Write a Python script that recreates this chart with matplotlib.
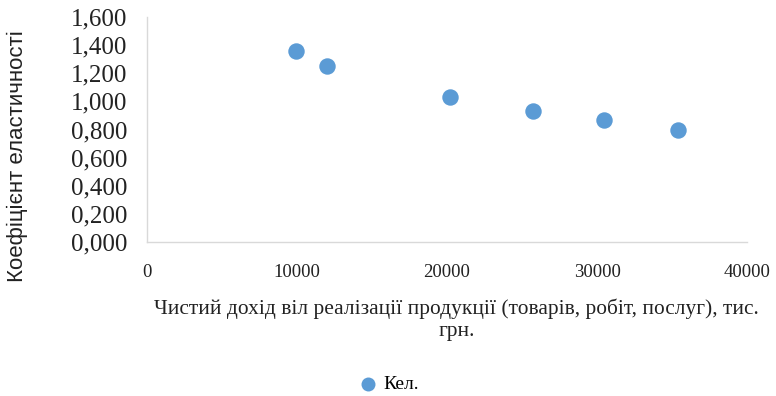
import numpy as np
import matplotlib.pyplot as plt
from matplotlib.ticker import FuncFormatter, MultipleLocator

# revenue (thousand UAH) vs elasticity coefficient
revenue = [9950, 12000, 20200, 25750, 30450, 35400]
elasticity = [1.358, 1.250, 1.031, 0.932, 0.868, 0.794]
series_name = "Кел."

plt.rcParams['font.family'] = ['Liberation Serif', 'DejaVu Serif']

fig = plt.figure(figsize=(7.76, 3.96), dpi=100)
ax = fig.add_axes([0.189, 0.389, 0.774, 0.568])

ax.scatter(revenue, elasticity, s=140, color='#5B9BD5', zorder=3,
           label=series_name, linewidths=0)

ax.set_xlim(0, 40000)
ax.set_ylim(0, 1.6)
ax.xaxis.set_major_locator(MultipleLocator(10000))
ax.yaxis.set_major_locator(MultipleLocator(0.2))
ax.yaxis.set_major_formatter(FuncFormatter(lambda v, p: f"{v:.3f}".replace('.', ',')))

for side in ['top', 'right']:
    ax.spines[side].set_visible(False)
for side in ['left', 'bottom']:
    ax.spines[side].set_color('#d9d9d9')
    ax.spines[side].set_linewidth(1.0)

ax.tick_params(axis='both', length=0, colors='#222222')
ax.tick_params(axis='x', pad=16, labelsize=13.5)
ax.tick_params(axis='y', pad=14, labelsize=18)

fig.text(0.588, 0.192,
         "Чистий дохід віл реалізації продукції (товарів, робіт, послуг), тис.\nгрн.",
         ha='center', va='center', fontsize=15.4, color='#222222', linespacing=1.22)
fig.text(0.022, 0.606, "Коефіцієнт еластичності", rotation=90,
         ha='center', va='center', fontsize=16, color='#222222',
         family=['Liberation Sans', 'DejaVu Sans'])

fig.legend(loc='center', bbox_to_anchor=(0.495, 0.03), frameon=False,
           fontsize=14, handletextpad=-0.2, markerscale=0.85)

fig.savefig("out.png", dpi=100)
